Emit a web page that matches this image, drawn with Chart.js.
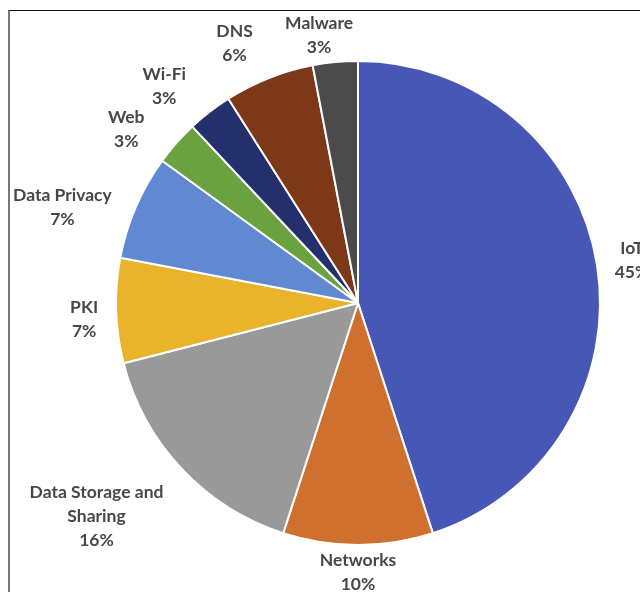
<!DOCTYPE html>
<html>
<head>
<meta charset="utf-8">
<script src="https://cdn.jsdelivr.net/npm/chart.js@4/dist/chart.umd.min.js"></script>
<style>
  body { margin: 0; background: #fff; }
  #wrap { position: relative; width: 640px; height: 592px; overflow: hidden; }
  #frame { position: absolute; left: 8px; top: 10px; right: -5px; bottom: -5px;
           border-top: 1px solid #111; border-left: 2px solid #777; }
  #pie { position: absolute; left: 0; top: 0; }
</style>
</head>
<body>
<div id="wrap">
  <div id="frame"></div>
  <canvas id="pie" width="640" height="592"></canvas>
</div>
<script>
const categories = ["IoT", "Networks", "Data Storage and Sharing", "PKI", "Data Privacy", "Web", "Wi-Fi", "DNS", "Malware"];
const shares = [45, 10, 16, 7, 7, 3, 3, 6, 3];
const sliceColors = ["#4757B5", "#D0702E", "#999999", "#E9B42B", "#6089D2", "#6AA23F", "#23306B", "#7D3817", "#4B4B4B"];

// small hand nudges so labels sit where Excel's "best fit" put them
const labelNudge = [[8, 1], [0, -7], [-29, 16], [-8, 8], [-19, 14], [-29, 9], [-26, 1], [-24, -3], [-12, 7]];

const FONT = "bold 17.5px Lato";
const LINE_H = 24;

function wrapText(ctx, text, maxW) {
  const words = text.split(" ");
  const lines = [];
  let cur = "";
  words.forEach((w) => {
    const test = cur ? cur + " " + w : w;
    if (ctx.measureText(test).width > maxW && cur) {
      lines.push(cur);
      cur = w;
    } else {
      cur = test;
    }
  });
  if (cur) lines.push(cur);
  return lines;
}

const outsideLabels = {
  id: "outsideLabels",
  afterDatasetsDraw(chart) {
    const ctx = chart.ctx;
    const meta = chart.getDatasetMeta(0);
    ctx.save();
    ctx.font = FONT;
    ctx.fillStyle = "#474747";
    ctx.textAlign = "center";
    ctx.textBaseline = "middle";
    meta.data.forEach((arc, i) => {
      const p = arc.getProps(["x", "y", "startAngle", "endAngle", "outerRadius"], true);
      const mid = (p.startAngle + p.endAngle) / 2;
      const lines = wrapText(ctx, categories[i], 150);
      lines.push(shares[i] + "%");
      const w = Math.max(...lines.map((l) => ctx.measureText(l).width));
      const h = lines.length * LINE_H;
      const ax = p.x + Math.cos(mid) * (p.outerRadius + 10);
      const ay = p.y + Math.sin(mid) * (p.outerRadius + 10);
      const cx = ax + Math.cos(mid) * w / 2 + labelNudge[i][0];
      const cy = ay + Math.sin(mid) * h / 2 + labelNudge[i][1];
      lines.forEach((l, k) => {
        ctx.fillText(l, cx, cy - h / 2 + LINE_H / 2 + k * LINE_H);
      });
    });
    ctx.restore();
  }
};

new Chart(document.getElementById("pie").getContext("2d"), {
  type: "pie",
  data: {
    labels: categories,
    datasets: [{
      data: shares,
      backgroundColor: sliceColors,
      borderColor: "#ffffff",
      borderWidth: 2
    }]
  },
  options: {
    responsive: false,
    devicePixelRatio: 1,
    animation: false,
    layout: { padding: { left: 115, right: 39, top: 60, bottom: 46 } },
    plugins: {
      legend: { display: false },
      tooltip: { enabled: false }
    }
  },
  plugins: [outsideLabels]
});
</script>
</body>
</html>
